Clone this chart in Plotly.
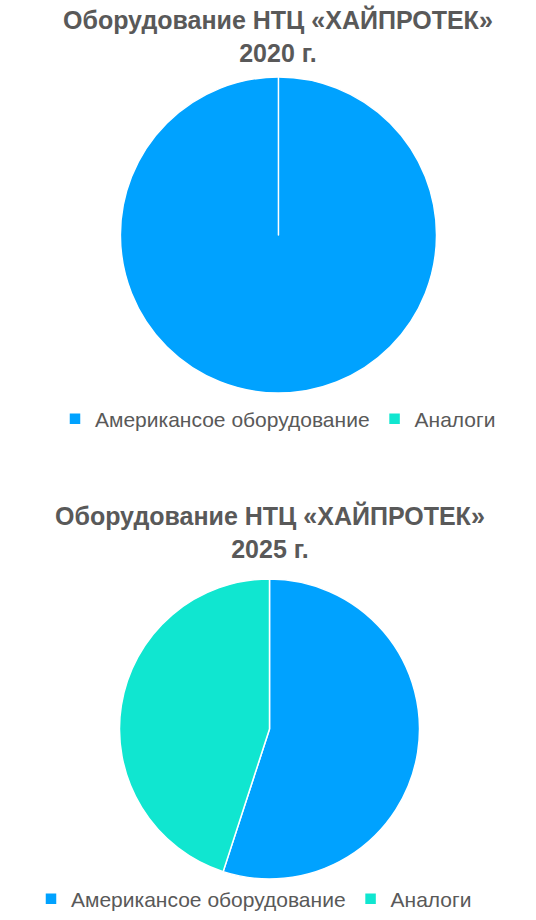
import plotly.graph_objects as go

labels = ["Американсое оборудование", "Аналоги"]
values_2020 = [100, 0]
values_2025 = [55, 45]
titles = ["Оборудование НТЦ «ХАЙПРОТЕК»<br>2020 г.", "Оборудование НТЦ «ХАЙПРОТЕК»<br>2025 г."]
colors = ["#00A2FF", "#10E6D0"]

W, H = 536, 920
FONT = "Liberation Sans, Arial, sans-serif"
GRAY = "#595959"

fig = go.Figure()

# top pie: center (278.5, 235), r 158
fig.add_trace(go.Pie(
    labels=labels, values=values_2020, sort=False, direction="clockwise", rotation=0,
    marker=dict(colors=colors, line=dict(color="white", width=1.5)),
    textinfo="none", hoverinfo="skip",
    domain=dict(x=[0.039, 1.0], y=[0.5728, 0.9163]),
    legend="legend",
))
# bottom pie: center (269.5, 729), r 150
# (zero-width space suffix keeps its legend entries distinct from the top pie's)
fig.add_trace(go.Pie(
    labels=[l + "\u200b" for l in labels], values=values_2025, sort=False,
    direction="clockwise", rotation=0,
    marker=dict(colors=colors, line=dict(color="white", width=1.5)),
    textinfo="none", hoverinfo="skip",
    domain=dict(x=[0.0056, 1.0], y=[0.0446, 0.3707]),
    legend="legend2",
))

annos = []
for t, cx, cy in [(titles[0], 278, 36), (titles[1], 270, 532)]:
    annos.append(dict(
        text="<b>" + t + "</b>", x=cx / W, y=1 - cy / H, xref="paper", yref="paper",
        xanchor="center", yanchor="middle", showarrow=False,
        font=dict(family=FONT, size=25, color=GRAY), align="center",
    ))

fig.update_layout(
    width=W, height=H, margin=dict(l=0, r=0, t=0, b=0),
    paper_bgcolor="white", plot_bgcolor="white",
    annotations=annos,
    showlegend=True,
    legend=dict(orientation="h", x=278 / W, xanchor="center", y=1 - 419 / H, yanchor="middle",
                font=dict(family=FONT, size=21, color=GRAY), bgcolor="rgba(0,0,0,0)"),
    legend2=dict(orientation="h", x=254 / W, xanchor="center", y=1 - 899 / H, yanchor="middle",
                 font=dict(family=FONT, size=21, color=GRAY), bgcolor="rgba(0,0,0,0)"),
)

fig.write_html("out.html")
